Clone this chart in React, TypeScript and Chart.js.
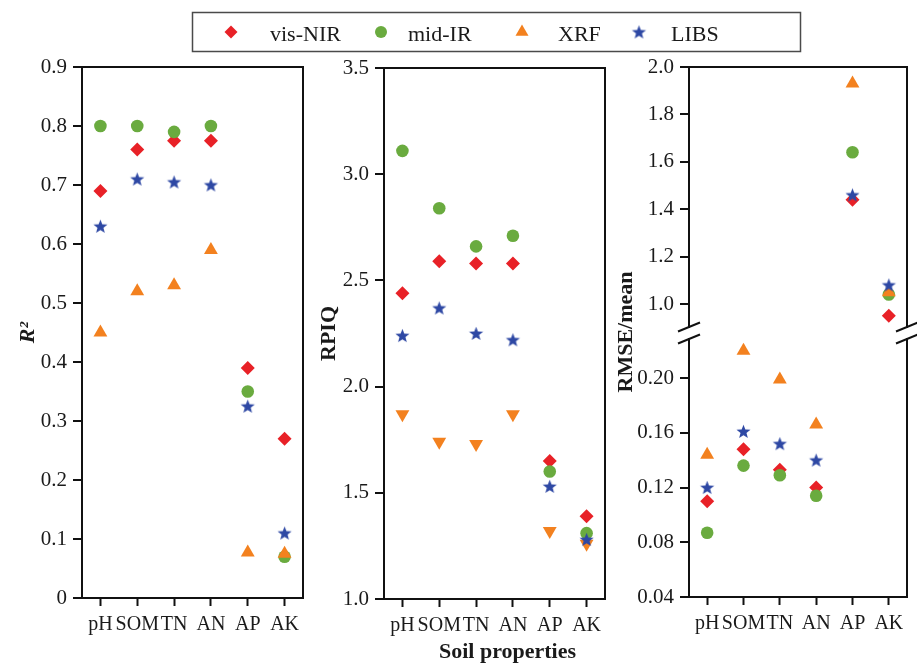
import React, { useEffect, useRef } from 'react';
import { Chart, registerables } from 'chart.js';

Chart.register(...registerables);

// ---------------- data ----------------
const CATEGORIES = ['pH', 'SOM', 'TN', 'AN', 'AP', 'AK'];
const SERIES_NAMES = ['vis-NIR', 'mid-IR', 'XRF', 'LIBS'];

const R2_VISNIR = [0.69, 0.76, 0.775, 0.775, 0.39, 0.27];
const R2_MIDIR = [0.8, 0.8, 0.79, 0.8, 0.35, 0.07];
const R2_XRF = [0.45, 0.52, 0.53, 0.59, 0.077, 0.075];
const R2_LIBS = [0.63, 0.71, 0.705, 0.7, 0.325, 0.11];

const RPIQ_VISNIR = [2.44, 2.59, 2.58, 2.58, 1.65, 1.39];
const RPIQ_MIDIR = [3.11, 2.84, 2.66, 2.71, 1.6, 1.31];
const RPIQ_XRF = [1.87, 1.74, 1.73, 1.87, 1.32, 1.26];
const RPIQ_LIBS = [2.24, 2.37, 2.25, 2.22, 1.53, 1.28];

const RMSE_VISNIR = [0.11, 0.148, 0.133, 0.12, 1.44, 0.95];
const RMSE_MIDIR = [0.087, 0.136, 0.129, 0.114, 1.64, 1.04];
const RMSE_XRF = [0.144, 0.22, 0.199, 0.166, 1.93, 1.05];
const RMSE_LIBS = [0.12, 0.161, 0.152, 0.14, 1.46, 1.08];
const RMSE_BREAK = 0.5;

const R2_TICKS = [0, 0.1, 0.2, 0.3, 0.4, 0.5, 0.6, 0.7, 0.8, 0.9];
const R2_TICK_LABELS = ['0', '0.1', '0.2', '0.3', '0.4', '0.5', '0.6', '0.7', '0.8', '0.9'];
const RPIQ_TICKS = [1.0, 1.5, 2.0, 2.5, 3.0, 3.5];
const RPIQ_TICK_LABELS = ['1.0', '1.5', '2.0', '2.5', '3.0', '3.5'];
const RMSE_HIGH_TICKS = [1.0, 1.2, 1.4, 1.6, 1.8, 2.0];
const RMSE_HIGH_TICK_LABELS = ['1.0', '1.2', '1.4', '1.6', '1.8', '2.0'];
const RMSE_LOW_TICKS = [0.04, 0.08, 0.12, 0.16, 0.2];
const RMSE_LOW_TICK_LABELS = ['0.04', '0.08', '0.12', '0.16', '0.20'];

// ---------------- style ----------------
const SERIF = "'Liberation Serif', 'Times New Roman', serif";
const TEXT = '#1a1a1a';
const AXIS = '#111111';
const RED = '#e82127';
const GREEN = '#6aab3f';
const ORANGE = '#f3811f';
const BLUE = '#2e48a4';
const W = 917;
const H = 665;
const GAP = 6;

function makeStar(color: string, R: number): HTMLCanvasElement {
  const size = Math.ceil(2 * R + 2);
  const c = document.createElement('canvas');
  c.width = size;
  c.height = size;
  const ctx = c.getContext('2d')!;
  const cx = size / 2;
  const cy = size / 2 + R * 0.08;
  ctx.beginPath();
  for (let k = 0; k < 10; k++) {
    const ang = -Math.PI / 2 + (k * Math.PI) / 5;
    const r = k % 2 === 0 ? R : R * 0.42;
    const x = cx + Math.cos(ang) * r;
    const y = cy + Math.sin(ang) * r;
    if (k === 0) ctx.moveTo(x, y);
    else ctx.lineTo(x, y);
  }
  ctx.closePath();
  ctx.fillStyle = color;
  ctx.fill();
  return c;
}

function buildDatasets(seriesValues: (number | null)[][], star: HTMLCanvasElement, xrfRotation = 0) {
  const styles: any[] = [
    { color: RED, style: 'rectRot', radius: 7, order: 4, rot: 0 },
    { color: GREEN, style: 'circle', radius: 6.3, order: 3, rot: 0 },
    { color: ORANGE, style: 'triangle', radius: 8, order: 2, rot: xrfRotation },
    { color: BLUE, style: star, radius: 7, order: 1, rot: 0 },
  ];
  return seriesValues.map((vals, i) => ({
    label: SERIES_NAMES[i],
    data: vals,
    showLine: false,
    pointStyle: styles[i].style,
    pointRadius: styles[i].radius,
    pointRotation: styles[i].rot,
    pointBackgroundColor: styles[i].color,
    pointBorderColor: styles[i].color,
    pointBorderWidth: 0,
    order: styles[i].order,
    clip: false,
  }));
}

function yScale(min: number, max: number, ticks: number[], labels: string[], width: number, title?: any) {
  return {
    type: 'linear',
    min,
    max,
    afterBuildTicks: (s: any) => {
      s.ticks = ticks.map((v) => ({ value: v }));
    },
    afterFit: (s: any) => {
      s.width = width;
    },
    ticks: {
      callback: (_v: any, i: number) => labels[i],
      font: { family: SERIF, size: 21 },
      color: TEXT,
      padding: 6,
      autoSkip: false,
    },
    grid: {
      display: true,
      drawOnChartArea: false,
      drawTicks: true,
      tickLength: 9,
      tickWidth: 2,
      tickColor: AXIS,
      lineWidth: 2,
      color: AXIS,
    },
    border: { display: false },
    title: title || { display: false },
  };
}

function xScale(display: boolean) {
  return {
    type: 'category',
    labels: CATEGORIES,
    offset: true,
    display,
    afterFit: (s: any) => {
      if (display) s.height = 40;
    },
    ticks: {
      font: { family: SERIF, size: 20 },
      color: TEXT,
      padding: 7,
      autoSkip: false,
      maxRotation: 0,
      minRotation: 0,
    },
    grid: {
      display: true,
      drawOnChartArea: false,
      drawTicks: true,
      tickLength: 8,
      tickWidth: 2,
      tickColor: AXIS,
      offset: false,
    },
    border: { display: false },
  };
}

function seg(ctx: CanvasRenderingContext2D, x1: number, y1: number, x2: number, y2: number) {
  ctx.beginPath();
  ctx.moveTo(x1, y1);
  ctx.lineTo(x2, y2);
  ctx.stroke();
}

// chart areas of every panel, filled in after each chart's layout
const AREAS: Record<string, any> = {};

function capturePlugin(key: string) {
  return {
    id: 'capture' + key,
    afterLayout(chart: any) {
      const a = chart.chartArea;
      AREAS[key] = { L: Math.round(a.left), R: Math.round(a.right), T: Math.round(a.top), B: Math.round(a.bottom) };
    },
  };
}

function drawFrames(ctx: CanvasRenderingContext2D) {
  ctx.save();
  ctx.setLineDash([]);
  ctx.strokeStyle = AXIS;
  ctx.lineWidth = 2;
  ctx.lineCap = 'square';
  for (const key of ['A', 'B']) {
    const a = AREAS[key];
    if (!a) continue;
    seg(ctx, a.L, a.T, a.R, a.T);
    seg(ctx, a.L, a.B, a.R, a.B);
    seg(ctx, a.L, a.T, a.L, a.B);
    seg(ctx, a.R, a.T, a.R, a.B);
  }
  const u = AREAS.C;
  const d = AREAS.D;
  if (u) {
    seg(ctx, u.L, u.T, u.R, u.T);
    seg(ctx, u.L, u.T, u.L, u.B - GAP);
    seg(ctx, u.R, u.T, u.R, u.B - GAP);
  }
  if (d) {
    seg(ctx, d.L, d.B, d.R, d.B);
    seg(ctx, d.L, d.T + GAP, d.L, d.B);
    seg(ctx, d.R, d.T + GAP, d.R, d.B);
    ctx.lineCap = 'butt';
    for (const x of [d.L, d.R]) {
      for (const dy of [-GAP, GAP]) {
        seg(ctx, x - 11, d.T + dy + 4.5, x + 11, d.T + dy - 4.5);
      }
    }
  }
  ctx.restore();
}

const framesPlugin = {
  id: 'panelFrames',
  afterDraw(chart: any) {
    drawFrames(chart.ctx as CanvasRenderingContext2D);
  },
};

function drawMarker(ctx: CanvasRenderingContext2D, kind: string, x: number, y: number, color: string, star: HTMLCanvasElement) {
  ctx.save();
  ctx.fillStyle = color;
  ctx.beginPath();
  if (kind === 'diamond') {
    const r = 6.5;
    ctx.moveTo(x, y - r);
    ctx.lineTo(x + r, y);
    ctx.lineTo(x, y + r);
    ctx.lineTo(x - r, y);
    ctx.closePath();
    ctx.fill();
  } else if (kind === 'circle') {
    ctx.arc(x, y, 6, 0, Math.PI * 2);
    ctx.fill();
  } else if (kind === 'triangle') {
    const r = 7.5;
    for (let k = 0; k < 3; k++) {
      const ang = -Math.PI / 2 + (k * 2 * Math.PI) / 3;
      const px = x + Math.cos(ang) * r;
      const py = y + Math.sin(ang) * r;
      if (k === 0) ctx.moveTo(px, py);
      else ctx.lineTo(px, py);
    }
    ctx.closePath();
    ctx.fill();
  } else {
    ctx.drawImage(star, x - star.width / 2, y - star.height / 2);
  }
  ctx.restore();
}

function legendPlugin(star: HTMLCanvasElement) {
  const items = [
    { kind: 'diamond', color: RED, mx: 231, tx: 270 },
    { kind: 'circle', color: GREEN, mx: 381, tx: 408 },
    { kind: 'triangle', color: ORANGE, mx: 522, tx: 558 },
    { kind: 'star', color: BLUE, mx: 639, tx: 671 },
  ];
  return {
    id: 'figureText',
    afterDraw(chart: any) {
      const ctx = chart.ctx as CanvasRenderingContext2D;
      ctx.save();
      ctx.strokeStyle = '#4a4a4a';
      ctx.lineWidth = 1.5;
      ctx.strokeRect(192.5, 12.5, 608, 39);
      ctx.font = `22px ${SERIF}`;
      ctx.fillStyle = TEXT;
      ctx.textBaseline = 'alphabetic';
      ctx.textAlign = 'left';
      items.forEach((it, i) => {
        drawMarker(ctx, it.kind, it.mx, 32, it.color, star);
        ctx.fillStyle = TEXT;
        ctx.fillText(SERIES_NAMES[i], it.tx, 41);
      });
      ctx.font = `bold 22px ${SERIF}`;
      ctx.textAlign = 'center';
      ctx.fillText('Soil properties', 507.5, 658);
      ctx.restore();
    },
  };
}

const rmseTitlePlugin = {
  id: 'rmseTitle',
  afterDraw(chart: any) {
    const ctx = chart.ctx as CanvasRenderingContext2D;
    ctx.save();
    ctx.translate(626, 332);
    ctx.rotate(-Math.PI / 2);
    ctx.font = `bold 22px ${SERIF}`;
    ctx.fillStyle = TEXT;
    ctx.textAlign = 'center';
    ctx.textBaseline = 'middle';
    ctx.fillText('RMSE/mean', 0, 0);
    ctx.restore();
  },
};

function baseOptions(padding: any, scales: any) {
  return {
    animation: false,
    responsive: false,
    maintainAspectRatio: false,
    events: [],
    layout: { padding },
    plugins: { legend: { display: false }, tooltip: { enabled: false }, title: { display: false } },
    scales,
  };
}

export default function App() {
  const r1 = useRef<HTMLCanvasElement>(null);
  const r2 = useRef<HTMLCanvasElement>(null);
  const r3 = useRef<HTMLCanvasElement>(null);
  const r4 = useRef<HTMLCanvasElement>(null);

  useEffect(() => {
    document.body.style.margin = '0';
    for (const k of Object.keys(AREAS)) delete AREAS[k];
    const star = makeStar(BLUE, 7.4);
    const charts: Chart[] = [];

    // Panel 1: R2
    charts.push(
      new Chart(r1.current!, {
        type: 'line',
        data: { labels: CATEGORIES, datasets: buildDatasets([R2_VISNIR, R2_MIDIR, R2_XRF, R2_LIBS], star) as any },
        options: baseOptions({ left: 15, right: W - 303, top: 67, bottom: H - 598 - 40 }, {
          x: xScale(true),
          y: yScale(0, 0.9, R2_TICKS, R2_TICK_LABELS, 67, {
            display: true,
            text: 'R²',
            color: TEXT,
            padding: 0,
            font: { family: SERIF, size: 22, weight: 'bold', style: 'italic' },
          }),
        }) as any,
        plugins: [capturePlugin('A')],
      })
    );

    // Panel 2: RPIQ (also carries legend, shared x title and all panel frames)
    charts.push(
      new Chart(r2.current!, {
        type: 'line',
        data: { labels: CATEGORIES, datasets: buildDatasets([RPIQ_VISNIR, RPIQ_MIDIR, RPIQ_XRF, RPIQ_LIBS], star, 180) as any },
        options: baseOptions({ left: 316, right: W - 605, top: 68, bottom: H - 599 - 40 }, {
          x: xScale(true),
          y: yScale(1.0, 3.5, RPIQ_TICKS, RPIQ_TICK_LABELS, 68, {
            display: true,
            text: 'RPIQ',
            color: TEXT,
            padding: 0,
            font: { family: SERIF, size: 22, weight: 'bold' },
          }),
        }) as any,
        plugins: [capturePlugin('B'), framesPlugin, legendPlugin(star)],
      })
    );

    // Panel 3: RMSE/mean with a broken axis
    const rmseAll = [RMSE_VISNIR, RMSE_MIDIR, RMSE_XRF, RMSE_LIBS];
    const high = rmseAll.map((s) => s.map((v) => (v > RMSE_BREAK ? v : null)));
    const low = rmseAll.map((s) => s.map((v) => (v <= RMSE_BREAK ? v : null)));

    charts.push(
      new Chart(r3.current!, {
        type: 'line',
        data: { labels: CATEGORIES, datasets: buildDatasets(high, star) as any },
        options: baseOptions({ left: 613, right: W - 907, top: 67, bottom: H - 333 }, {
          x: xScale(false),
          y: yScale(0.8776, 2.0, RMSE_HIGH_TICKS, RMSE_HIGH_TICK_LABELS, 76),
        }) as any,
        plugins: [capturePlugin('C')],
      })
    );

    charts.push(
      new Chart(r4.current!, {
        type: 'line',
        data: { labels: CATEGORIES, datasets: buildDatasets(low, star) as any },
        options: baseOptions({ left: 613, right: W - 907, top: 333, bottom: H - 597 - 40 }, {
          x: xScale(true),
          y: yScale(0.04, 0.2329, RMSE_LOW_TICKS, RMSE_LOW_TICK_LABELS, 76),
        }) as any,
        plugins: [capturePlugin('D'), rmseTitlePlugin],
      })
    );

    // redraw panel 2 now that every panel's area is known, so all frames get drawn
    charts[1].draw();

    return () => {
      charts.forEach((c) => c.destroy());
    };
  }, []);

  const cs: React.CSSProperties = { position: 'absolute', left: 0, top: 0, width: W, height: H };
  return (
    <div style={{ position: 'relative', width: W, height: H, background: '#ffffff', overflow: 'hidden' }}>
      <canvas ref={r1} width={W} height={H} style={cs} />
      <canvas ref={r2} width={W} height={H} style={cs} />
      <canvas ref={r3} width={W} height={H} style={cs} />
      <canvas ref={r4} width={W} height={H} style={cs} />
    </div>
  );
}
